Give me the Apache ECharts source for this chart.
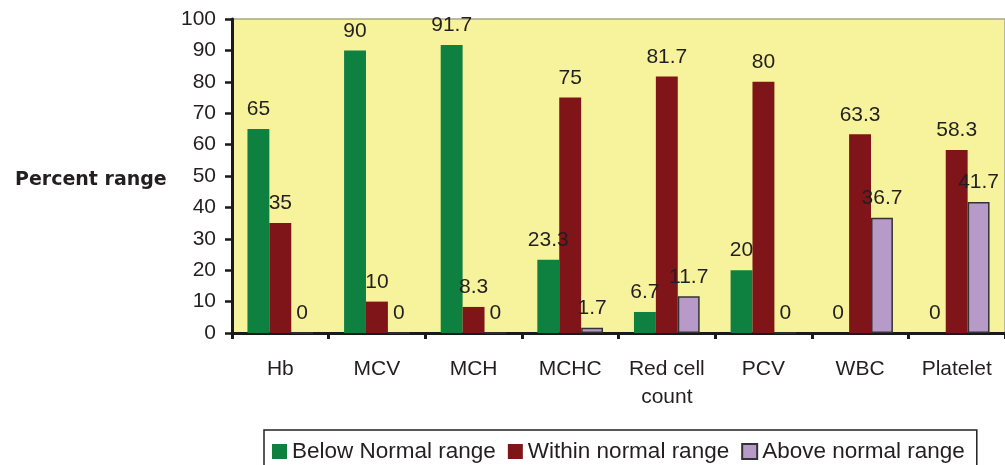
<!DOCTYPE html>
<html>
<head>
<meta charset="utf-8">
<script src="https://cdn.jsdelivr.net/npm/echarts@6/dist/echarts.min.js"></script>
<style>
html,body{margin:0;padding:0;background:#fff;}
#chart{width:1005px;height:465px;}
</style>
</head>
<body>
<div id="chart"></div>
<script>
const categories = ['Hb', 'MCV', 'MCH', 'MCHC', 'Red cell\ncount', 'PCV', 'WBC', 'Platelet'];
const belowNormal = [65, 90, 91.7, 23.3, 6.7, 20, 0, 0];
const withinNormal = [35, 10, 8.3, 75, 81.7, 80, 63.3, 58.3];
const aboveNormal = [0, 0, 0, 1.7, 11.7, 0, 36.7, 41.7];
const seriesNames = ['Below Normal range', 'Within normal range', 'Above normal range'];
const yTicks = {min: 0, max: 100, interval: 10};

const textColor = '#231f20';
const font = 'Liberation Sans, Arial, sans-serif';
const labelCfg = {show: true, position: 'top', distance: 9, fontSize: 21, color: textColor, fontFamily: font};

const chart = echarts.init(document.getElementById('chart'));
chart.setOption({
  animation: false,
  title: {
    text: 'Percent range', left: 10, top: 166,
    textStyle: {fontFamily: 'DejaVu Sans, sans-serif', fontWeight: 'bold', fontSize: 19, color: textColor}
  },
  grid: {
    left: 232, top: 19, width: 780, height: 314,
    show: true, backgroundColor: '#f7f39c', borderColor: '#a8a690', borderWidth: 1.5
  },
  legend: {
    left: 264, top: 430,
    padding: [10, 12, 10, 8],
    borderColor: '#222', borderWidth: 1.5,
    itemWidth: 15, itemHeight: 15, itemGap: 12,
    icon: 'rect',
    textStyle: {fontSize: 22.5, color: textColor, fontFamily: font},
    data: seriesNames
  },
  xAxis: {
    type: 'category', data: categories,
    axisLine: {show: true, lineStyle: {color: '#1a1a1a', width: 3}},
    axisTick: {show: true, interval: 0, length: 6, lineStyle: {color: '#1a1a1a', width: 3}},
    axisLabel: {interval: 0, margin: 22, fontSize: 21, lineHeight: 28, color: textColor, fontFamily: font},
    splitLine: {show: false}
  },
  yAxis: {
    type: 'value', min: yTicks.min, max: yTicks.max, interval: yTicks.interval,
    axisLine: {show: true, lineStyle: {color: '#1a1a1a', width: 3}},
    axisTick: {show: true, length: 7, lineStyle: {color: '#1a1a1a', width: 2.5}},
    axisLabel: {margin: 16, fontSize: 21, color: textColor, fontFamily: font},
    splitLine: {show: false}
  },
  series: [
    {name: seriesNames[0], type: 'bar', data: belowNormal, barGap: '0%', barCategoryGap: '32%',
     itemStyle: {color: '#0e8040'}, label: labelCfg},
    {name: seriesNames[1], type: 'bar', data: withinNormal, barGap: '0%', barCategoryGap: '32%',
     itemStyle: {color: '#7f1419'}, label: labelCfg},
    {name: seriesNames[2], type: 'bar', data: aboveNormal, barGap: '0%', barCategoryGap: '32%',
     itemStyle: {color: '#b89ac8', borderColor: '#333', borderWidth: 1.5}, label: labelCfg}
  ]
});
</script>
</body>
</html>
